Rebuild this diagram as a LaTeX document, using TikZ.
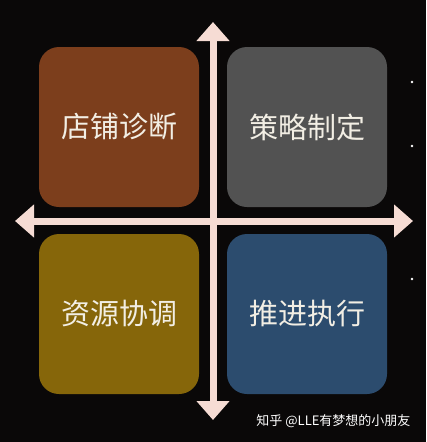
\documentclass[tikz,border=0pt]{standalone}
\usepackage{fontspec}
\setmainfont{Noto Sans CJK SC}
\usetikzlibrary{arrows.meta}

\definecolor{bg}{RGB}{10,8,8}
\definecolor{arrowpink}{RGB}{246,220,212}
\definecolor{boxbrown}{RGB}{124,62,28}
\definecolor{boxgray}{RGB}{82,82,82}
\definecolor{boxolive}{RGB}{134,102,10}
\definecolor{boxblue}{RGB}{44,76,110}
\definecolor{labeltext}{RGB}{242,238,228}

\tikzset{
  quad/.style={rounded corners=20pt, minimum size=160pt, inner sep=0pt,
    text=labeltext, font=\fontsize{29}{29}\selectfont},
  axis/.style={draw=arrowpink, line width=7pt,
    {Triangle[width=32pt,length=19pt]}-{Triangle[width=32pt,length=19pt]}},
  star/.style={fill=white}
}

\begin{document}
\begin{tikzpicture}[x=1pt, y=-1pt]
  % Background
  \fill[bg] (0,0) rectangle (426,442);
  \useasboundingbox (0,0) rectangle (426,442);

  % Nodes
  \node[quad, fill=boxbrown] (diag) at (119,127) {店铺诊断};
  \node[quad, fill=boxgray]  (plan) at (307,127) {策略制定};
  \node[quad, fill=boxolive] (res)  at (119,314) {资源协调};
  \node[quad, fill=boxblue]  (exec) at (307,314) {推进执行};

  \coordinate (top) at (213,22);
  \coordinate (bottom) at (213,420);
  \coordinate (left) at (15,221);
  \coordinate (right) at (413,221);

  % Lines
  \draw[axis] (bottom) -- (top);
  \draw[axis] (left) -- (right);

  % Stars
  \fill[star] (412,82) circle (1.3pt);
  \fill[star] (412,146) circle (1.3pt);
  \fill[star] (412,279) circle (1.3pt);

  \node[text=white, font=\fontsize{13}{13}\selectfont, anchor=east] (mark) at (414,421) {知乎 @LLE有梦想的小朋友};
\end{tikzpicture}
\end{document}
